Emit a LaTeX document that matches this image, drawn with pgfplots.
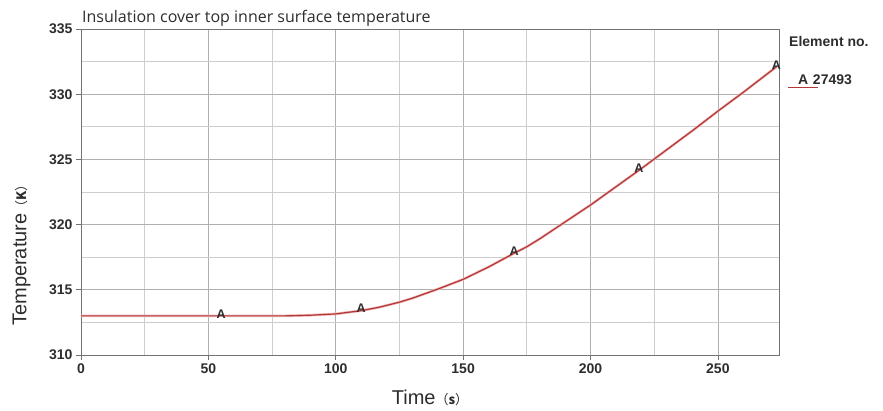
\documentclass[border=0pt]{standalone}
\usepackage{pgfplots}
\pgfplotsset{compat=1.18}
\usepackage{fontspec}
\setmainfont{Liberation Sans}
\newfontfamily\titlefont{Open Sans}
\newfontfamily\cjk{Noto Sans CJK SC}
\definecolor{curve}{RGB}{180,55,55}
\definecolor{halo}{RGB}{240,185,185}
\definecolor{majgrid}{RGB}{175,175,175}
\definecolor{mingrid}{RGB}{205,205,205}
\definecolor{txt}{RGB}{45,45,45}

\pgfplotstableread{
x y
0 313.0
20 313.0
40 313.0
60 313.0
80 313.0
90 313.05
100 313.15
110 313.4
117 313.66
125 314.05
130 314.35
140 315.05
150 315.8
160 316.75
170 317.8
175 318.3
180 318.9
190 320.2
200 321.5
210 322.9
220 324.3
230 325.75
240 327.2
250 328.7
260 330.15
273 332.1
}\curvedata

\pgfplotstableread{
x y
55 313.0
110 313.4
170 317.8
219 324.2
273 332.1
}\markdata

\begin{document}
\begin{tikzpicture}
\begin{axis}[at={(0pt,0pt)}, anchor=south west, scale only axis, width=698pt, height=326pt,
  xmin=0, xmax=274, ymin=310, ymax=335,
  xtick={0,50,...,250}, ytick={310,315,...,335},
  minor x tick num=1, minor y tick num=1,
  grid=both,
  major grid style={majgrid, line width=0.7pt},
  minor grid style={mingrid, line width=0.7pt},
  axis line style={gray!90!black, line width=0.8pt},
  tick align=outside, tick pos=left,
  major tick length=5pt, minor tick length=0pt,
  tick style={gray!90!black, line width=0.7pt},
  ticklabel style={font=\bfseries\fontsize{14}{15}\selectfont, text=txt},
  /pgf/number format/assume math mode=true,
  /pgf/number format/1000 sep={},
  xlabel={Time{\cjk\fontsize{13}{14}\selectfont（\textbf{s}）}},
  ylabel={Temperature{\cjk\fontsize{13}{14}\selectfont（\textbf{K}）}},
  xlabel style={font=\fontsize{20}{22}\selectfont, text=txt, at={(axis description cs:0.5,-0.13)}, anchor=center},
  ylabel style={font=\fontsize{20}{22}\selectfont, text=txt, at={(axis description cs:-0.085,0.316)}, anchor=center},
  clip=false,
]
\addplot[halo, line width=2.6pt, forget plot] table[x=x,y=y] {\curvedata};
\addplot[curve, line width=1.2pt] table[x=x,y=y] {\curvedata};
\addplot[only marks, mark=text, text mark={A}, text mark as node=true,
  text mark style={font=\bfseries\fontsize{12.5}{13}\selectfont, text=txt, yshift=2pt}]
  table[x=x,y=y] {\markdata};
\node[anchor=base west, font=\titlefont\fontsize{16}{17}\selectfont, text=txt, yshift=6pt, inner sep=0pt, xshift=1pt]
  at (rel axis cs:0,1) {Insulation cover top inner surface temperature};
\node[anchor=west, font=\bfseries\fontsize{14}{15}\selectfont, text=txt, inner sep=0pt, xshift=10pt]
  at (rel axis cs:1,0.963) {Element no.};
\draw[curve, line width=1pt] (rel axis cs:1,0.822) ++(9pt,0pt) -- ++(30pt,0pt);
\node[anchor=west, font=\bfseries\fontsize{14}{15}\selectfont, text=txt, inner sep=0pt, xshift=19pt]
  at (rel axis cs:1,0.844) {A\,\,27493};
\end{axis}
\pgfresetboundingbox
\path[use as bounding box] (-81pt,-56pt) rectangle (802pt,355pt);
\end{tikzpicture}
\end{document}
